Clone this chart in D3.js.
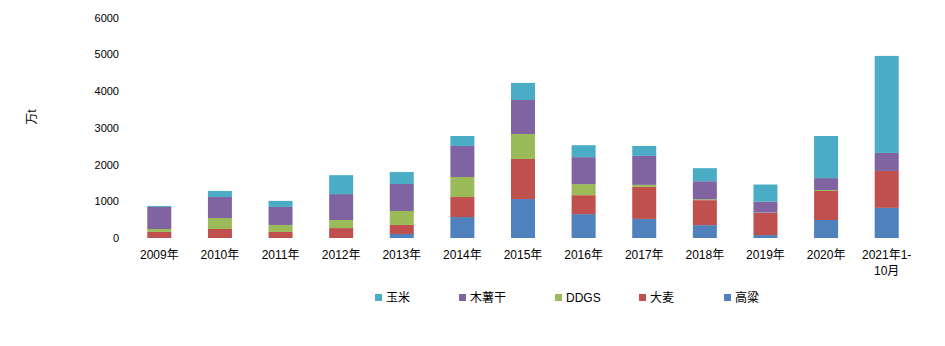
<!DOCTYPE html>
<html><head><meta charset="utf-8">
<script src="https://cdn.jsdelivr.net/npm/d3@7"></script>
<style>body{margin:0;background:#fff}svg{display:block}text{font-family:"Liberation Sans","Noto Sans CJK SC",sans-serif;font-size:11px;fill:#000}</style>
</head><body>
<svg id="c" width="945" height="346"></svg>
<script>
const categories = ["2009年","2010年","2011年","2012年","2013年","2014年","2015年","2016年","2017年","2018年","2019年","2020年","2021年1-\n10月"];
const sorghum = [0,0,0,0,110,570,1060,650,520,350,80,490,820];      // 高粱
const barley  = [165,245,165,270,245,545,1090,515,870,680,600,790,1005]; // 大麦
const ddgs    = [80,300,190,220,380,545,680,300,55,25,10,25,0];      // DDGS
const cassava = [600,570,490,705,735,845,925,735,790,490,300,325,490]; // 木薯干
const corn    = [27,165,165,515,325,270,465,325,270,355,465,1145,2640]; // 玉米
const seriesNames = ["高粱","大麦","DDGS","木薯干","玉米"];
const seriesColors = ["#4F81BD","#C0504D","#9BBB59","#8064A2","#4BACC6"];
const yTicks = [0,1000,2000,3000,4000,5000,6000];
const legendOrder = ["玉米","木薯干","DDGS","大麦","高粱"];

const rows = categories.map((c,i)=>({cat:c, "高粱":sorghum[i], "大麦":barley[i], "DDGS":ddgs[i], "木薯干":cassava[i], "玉米":corn[i]}));
const stack = d3.stack().keys(seriesNames)(rows);

const svg = d3.select("#c");
const x = d3.scaleBand().domain(categories).range([129,917]).paddingInner(0.6).paddingOuter(0.3);
const y = d3.scaleLinear().domain([0,6000]).range([238,17.5]);
const color = d3.scaleOrdinal().domain(seriesNames).range(seriesColors);

// y axis
const yAxis = svg.append("g").attr("transform","translate(124,0)")
  .call(d3.axisLeft(y).tickValues(yTicks).tickSize(0).tickPadding(5).tickFormat(d3.format("d")));
yAxis.select(".domain").remove();
yAxis.selectAll("text").attr("font-size",11).attr("font-family",null).style("fill","#000");

// bars
svg.append("g").selectAll("g").data(stack).join("g")
  .attr("fill",d=>color(d.key))
  .selectAll("rect").data(d=>d).join("rect")
  .attr("x",d=>x(d.data.cat)+ (x.bandwidth()-24)/2)
  .attr("width",24)
  .attr("y",d=>y(d[1]))
  .attr("height",d=>Math.max(0,y(d[0])-y(d[1])));

// x axis labels
const xAxis = svg.append("g").attr("transform","translate(0,238)")
  .call(d3.axisBottom(x).tickSize(0).tickPadding(0).tickFormat(""));
xAxis.select(".domain").remove();
xAxis.selectAll(".tick").each(function(d){
  const t = d3.select(this).append("text").attr("text-anchor","middle").style("font-size","12px");
  d.split("\n").forEach((line,i)=>{
    t.append("tspan").attr("x",0).attr("y",21+i*16).text(line);
  });
});

// y title
svg.append("text").attr("transform","translate(36,117) rotate(-90)")
  .attr("text-anchor","middle").style("font-size","12px").text("万t");

// legend
const legendX = [375,459,555,639,724];
const lg = svg.append("g").selectAll("g").data(legendOrder).join("g")
  .attr("transform",(d,i)=>`translate(${legendX[i]},294)`);
lg.append("rect").attr("width",7).attr("height",7).attr("fill",d=>color(d));
lg.append("text").attr("x",11).attr("y",8).style("font-size","12px").text(d=>d);
</script>
</body></html>
